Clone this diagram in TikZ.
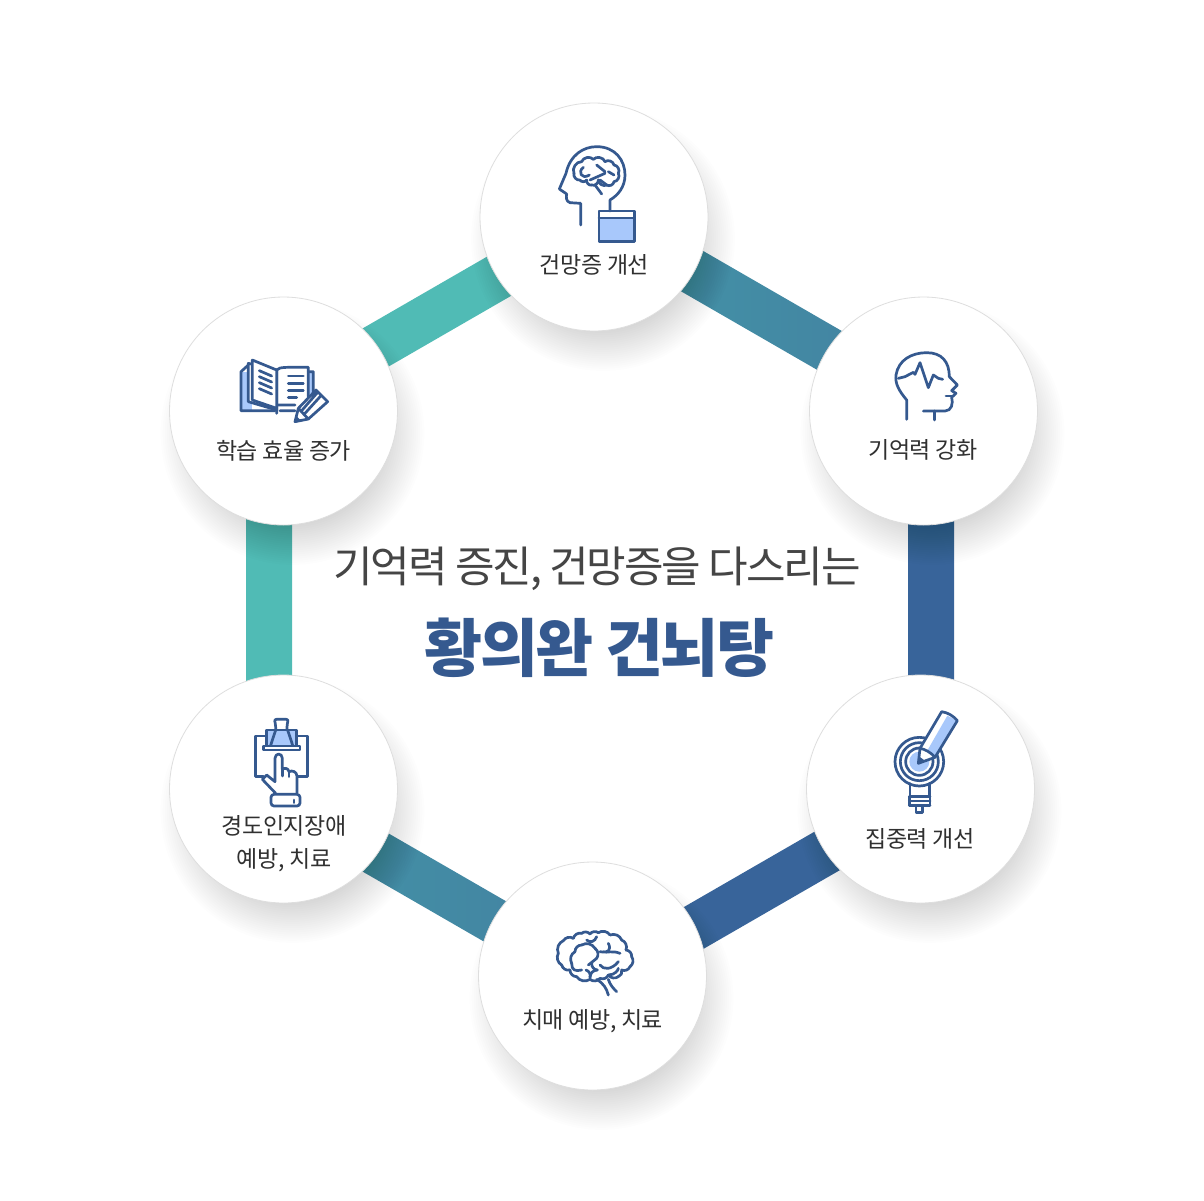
\documentclass[tikz,border=0pt]{standalone}
\usepackage{fontspec}
\setmainfont{Noto Sans CJK KR}[LetterSpace=-2]
\newfontfamily\subfont{Noto Sans CJK KR}[LetterSpace=-5]
\newfontfamily\titlefont{Noto Sans CJK KR}[LetterSpace=-4]
\usetikzlibrary{calc, positioning}

\definecolor{iconblue}{HTML}{35598F}
\definecolor{iconfill}{HTML}{A8C8FB}
\definecolor{textgray}{HTML}{303030}
\definecolor{subgray}{HTML}{454545}
\definecolor{rim}{HTML}{DEDEDE}
\definecolor{barteal}{HTML}{50BBB5}
\definecolor{barmid}{HTML}{4496A8}
\definecolor{barsteel}{HTML}{427FA0}
\definecolor{barblue}{HTML}{38649A}

\tikzset{
	hub/.style={circle, draw=rim, line width=0.8pt, fill=white, minimum size=228pt, inner sep=0pt},
	hublabel/.style={font=\fontsize{23}{33}\selectfont, text=textgray, align=center, inner sep=0pt},
	icon/.style={draw=iconblue, line width=2.7pt, line join=round, line cap=round},
	zoomed/.style={shift={#1}, scale=0.33333}
}

% one bar of the ring, from corner to corner
\newcommand{\ringbar}[4]{
	\shade[left color=#3, right color=#4]
		($(#1)!23pt!90:(#2)$) -- ($(#1)!23pt!-90:(#2)$) -- ($(#2)!23pt!90:(#1)$) -- ($(#2)!23pt!-90:(#1)$) -- cycle;
}
\newcommand{\bumpline}[3][45]{
	\gdef\bumpprev{#2}
	\foreach \p in {#3} {
		\edef\bumpstep{\noexpand\draw[icon] \bumpprev to[bend left=#1] \p;}
		\bumpstep
		\global\let\bumpprev\p
	}
}

\begin{document}
\begin{tikzpicture}[x=1pt, y=-1pt]
	\useasboundingbox (0,0) rectangle (1204,1200);
	\fill[white] (0,0) rectangle (1204,1200);

	\coordinate (cTop) at (600,218);
	\coordinate (cUpRight) at (931,409);
	\coordinate (cDownRight) at (931,791);
	\coordinate (cBottom) at (600,982);
	\coordinate (cDownLeft) at (269,791);
	\coordinate (cUpLeft) at (269,409);

	\ringbar{cUpLeft}{cTop}{barteal}{barteal}
	\ringbar{cTop}{cUpRight}{barmid}{barsteel}
	\ringbar{cUpRight}{cDownRight}{barblue}{barblue}
	\ringbar{cBottom}{cDownRight}{barblue}{barblue}
	\ringbar{cDownLeft}{cBottom}{barmid}{barsteel}
	\ringbar{cDownLeft}{cUpLeft}{barteal}{barteal}

	% hubs, each over its own soft shadow
	\foreach \name/\cx/\cy in {memory/594/217, recall/923.5/411, focus/920.5/789, dementia/592.5/976, mild/283.5/789, study/283.5/411} {
		\foreach \i in {0,...,19}
			\fill[black, opacity=0.0075] (\cx+9,\cy+22) circle ({92+\i*2.1});
		\node[hub] (\name) at (\cx,\cy) {};
	}

	\node[hublabel] (memoryText) at (594.5,265) {건망증 개선};
	\node[hublabel] (recallText) at (923,449.5) {기억력 강화};
	\node[hublabel] (focusText) at (920,839) {집중력 개선};
	\node[hublabel] (dementiaText) at (592.5,1021) {치매 예방, 치료};
	\node[hublabel] (mildText) at (284,844) {경도인지장애\\예방, 치료};
	\node[hublabel] (studyText) at (283.5,450.5) {학습 효율 증가};

	\node[font=\subfont\fontsize{43}{50}\selectfont, text=subgray, inner sep=0pt] (subtitle) at (597,569) {기억력 증진, 건망증을 다스리는};
	\node[font=\titlefont\fontsize{63}{70}\bfseries, text=iconblue, inner sep=0pt, below=27pt of subtitle, xshift=2.5pt] (title) {황의완 건뇌탕};

	% head with brain and window
	\begin{scope}[zoomed={(540,130)}]
		\draw[icon] (122,285) -- (122,220) -- (90,218) .. controls (78,215) and (78,200) .. (80,192) -- (58,177) -- (78,130)
			.. controls (90,75) and (130,50) .. (170,50) .. controls (225,50) and (255,90) .. (255,135)
			.. controls (255,170) and (235,195) .. (210,210) -- (210,243);
		\fill[iconfill] (177,262) rectangle (283,335);
		\draw[icon] (177,243) rectangle (283,335) (177,264) -- (283,264);
		\bumpline[60]{(102,130)}{(125,95),(160,88),(195,95),(222,105),(235,130),(222,155),(200,165),(175,150),(155,165),(140,150),(120,150),(102,130)}
		\draw[icon] (130,112) .. controls (112,125) and (125,150) .. (148,135) (150,150) -- (195,130) (165,165) -- (185,192) (180,150) -- (200,165) (170,105) -- (195,125) (205,125) -- (222,135);
	\end{scope}

	% head with pulse line
	\begin{scope}[zoomed={(870,340)}]
		\draw[icon] (110,238) -- (110,180) .. controls (85,150) and (75,130) .. (78,105) .. controls (85,60) and (125,38) .. (170,38)
			.. controls (215,38) and (238,65) .. (238,110) -- (262,135) -- (245,152) -- (258,160) -- (245,172) .. controls (250,190) and (245,213) .. (225,213) -- (160,213);
		\draw[icon] (193,213) -- (193,240) (228,168) -- (250,168);
		\draw[icon] (85,115) -- (105,110) -- (130,97) -- (135,103) -- (150,68) -- (175,143) -- (190,105) -- (205,115) -- (218,118);
	\end{scope}

	% target bulb with pencil
	\begin{scope}[zoomed={(870,700)}]
		\draw[icon] (148,185) circle (73) (148,185) circle (57) (148,185) circle (41);
		\fill[iconfill] (148,185) circle (30);
		\draw[icon] (120,250) -- (120,290) (178,250) -- (178,290);
		\draw[icon] (118,290) -- (180,290) (118,316) -- (180,316) (118,290) -- (118,316) (180,290) -- (180,316);
		\draw[icon] (118,303) -- (180,303) (138,318) -- (138,338) -- (158,338) -- (158,318);
		\fill[white] (150,145) -- (215,35) -- (262,62) -- (195,172) -- (145,190) -- cycle;
		\fill[iconfill] (170,155) -- (232,47) -- (262,62) -- (195,172) -- cycle;
		\draw[icon] (150,145) -- (215,35) .. controls (235,38) and (250,48) .. (262,62) -- (195,172) .. controls (180,155) and (165,148) .. (150,145) -- (145,190) -- (195,172);
		\fill[iconblue] (145,190) -- (148,170) -- (165,182) -- cycle;
	\end{scope}

	% brain
	\begin{scope}[zoomed={(540,920)}]
		\bumpline{(55,100)}{(70,62),(100,55),(125,40),(150,42),(175,38),(210,45),(245,60),(258,90),(275,110),(270,140),(245,150),(235,170),(205,165),(180,175),(150,178),(110,170),(90,150),(65,135),(55,100)}
		\bumpline{(95,130)}{(105,95),(125,75),(165,85),(170,115)}
		\bumpline{(138,150)}{(150,172),(172,150),(155,130)}
		\draw[icon] (95,130) .. controls (95,150) and (105,155) .. (125,150) (170,115) -- (145,135) (180,95) .. controls (205,100) and (215,90) .. (205,70)
			(140,60) .. controls (150,70) and (165,65) .. (170,50) (180,135) .. controls (190,150) and (215,150) .. (235,125) (205,165) .. controls (225,165) and (235,150) .. (235,145)
			(240,100) .. controls (215,90) and (200,100) .. (190,95);
		\draw[icon] (170,178) .. controls (190,190) and (200,205) .. (205,225) (205,178) .. controls (210,195) and (220,205) .. (230,215);
	\end{scope}

	% clipped sheet and hand
	\begin{scope}[zoomed={(235,710)}]
		\draw[icon] (95,78) -- (62,78) -- (62,200) -- (85,200) (185,78) -- (217,78) -- (217,200) -- (187,200);
		\draw[icon, fill=iconfill] (95,60) rectangle (185,108);
		\draw[icon] (122,60) -- (105,112) (158,60) -- (175,112);
		\draw[icon, rounded corners=2pt] (122,60) -- (122,45) -- (118,28) -- (160,28) -- (156,45) -- (156,60);
		\draw[icon, fill=white] (85,108) rectangle (195,120);
		\draw[icon, fill=white] (122,250) -- (82,208) -- (95,195) -- (120,215) -- (120,145) .. controls (120,128) and (142,128) .. (142,145)
			-- (142,178) .. controls (150,172) and (160,175) .. (162,185) .. controls (172,180) and (185,185) .. (186,198) -- (186,250);
		\draw[icon] (142,178) -- (142,198) (162,185) -- (162,200);
		\draw[icon, rounded corners=3pt] (108,253) rectangle (195,288);
		\draw[icon] (177,270) -- (177,278);
	\end{scope}

	% open book and pencil
	\begin{scope}[zoomed={(230,350)}]
		\fill[iconfill] (33,65) rectangle (67,182);
		\fill[iconfill] (235,65) rectangle (250,135);
		\draw[icon] (55,45) -- (33,65) -- (33,182) -- (135,182) (250,65) -- (235,65) (250,65) -- (250,125) (150,182) -- (195,182);
		\draw[icon, fill=white] (55,40) -- (55,155) -- (140,180) -- (140,60) -- cycle;
		\draw[icon, fill=white] (67,30) -- (140,60) -- (140,175) -- (67,150) -- cycle;
		\draw[icon] (140,60) .. controls (150,50) and (165,52) .. (235,52) -- (235,140) (140,175) -- (140,190) (145,165) -- (195,165);
		\foreach \ly in {62,80,98,116}
			\draw[icon] (88,\ly) -- (125,\ly+16);
		\foreach \ly/\lx in {78/220,100/220,122/220,142/200}
			\draw[icon] (175,\ly) -- (\lx,\ly);
		\fill[white] (205,175) -- (258,120) -- (293,155) -- (235,207) -- (195,215) -- cycle;
		\draw[icon] (195,215) -- (205,175) -- (258,120) -- (293,155) -- (235,207) -- cycle (205,175) -- (235,207) (225,190) -- (272,138) (215,182) -- (262,128);
		\fill[iconblue] (195,215) -- (199,198) -- (212,211) -- cycle;
	\end{scope}
\end{tikzpicture}
\end{document}
